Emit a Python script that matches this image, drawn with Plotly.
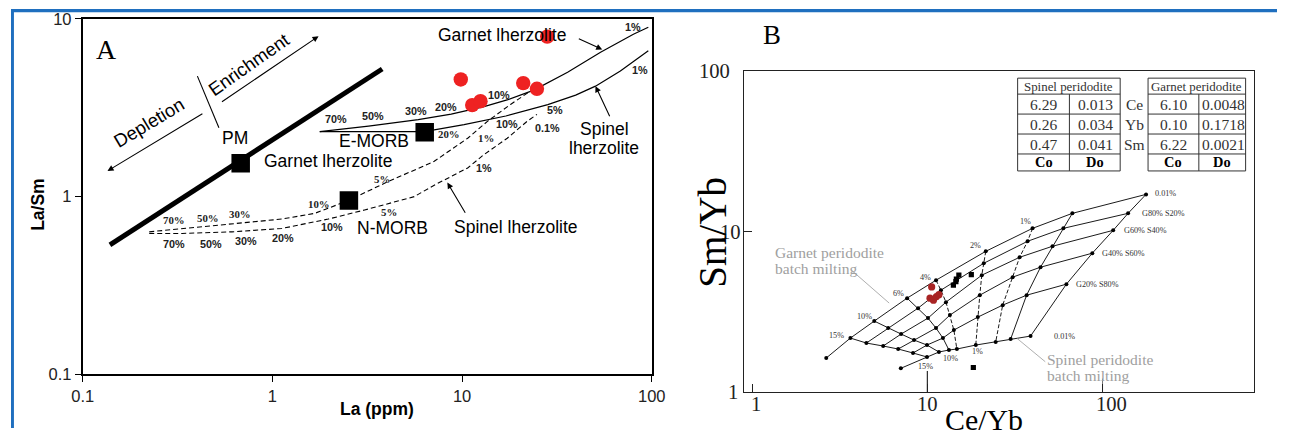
import math
import plotly.graph_objects as go

# figure size; the page keeps the browser's default 8px body margin and the captured
# page is scaled slightly on output, so layout positions are given in output pixels
W, H = 1291, 437
OFF = 8
SX, SY = 0.985, 0.961
FS = 1.03  # font/marker compensation for the output scaling
SANS = "Liberation Sans, Arial, sans-serif"
SERIF = "Liberation Serif, Times New Roman, serif"

# ---------------- Panel A: La/Sm vs La (ppm) ----------------
sample_la = [28.1, 9.84, 21.0, 24.8, 11.3, 12.5]
sample_lasm = [7.94, 4.56, 4.35, 4.04, 3.27, 3.44]

ref_names = ["PM", "E-MORB", "N-MORB"]
ref_la = [0.68, 6.35, 2.53]
ref_lasm = [1.54, 2.30, 0.95]

mantle_array_la = [0.139, 3.79]
mantle_array_lasm = [0.535, 5.22]

# melting curves (solid: enriched source, dashed: depleted source)
grt_em_la = [1.776, 3.21, 5.87, 8.76, 13.05, 17.44, 23.9, 36.0, 53.7, 80.0, 95.9]
grt_em_lasm = [2.32, 2.49, 2.71, 2.91, 3.21, 3.51, 3.97, 5.01, 6.49, 8.18, 8.96]
spl_em_la = [1.776, 3.33, 6.32, 10.24, 17.0, 28.3, 39.7, 50.5, 68.3, 95.9]
spl_em_lasm = [2.32, 2.32, 2.32, 2.54, 2.84, 3.29, 3.72, 4.18, 5.08, 6.61]
grt_dm_la = [0.224, 0.334, 0.612, 1.12, 1.67, 2.13, 2.55, 3.90, 7.13, 10.7, 13.6, 18.0, 22.9]
grt_dm_lasm = [0.634, 0.662, 0.706, 0.748, 0.805, 0.889, 0.957, 1.19, 1.58, 2.13, 2.65, 3.30, 3.92]
spl_dm_la = [0.224, 0.334, 0.612, 1.12, 1.97, 3.06, 5.59, 7.13, 10.7, 13.0, 17.3, 22.0, 24.8]
spl_dm_lasm = [0.621, 0.621, 0.634, 0.662, 0.748, 0.841, 1.0, 1.16, 1.45, 1.72, 2.13, 2.65, 2.90]

# melt-fraction labels: text, La, La/Sm, serif?
pct_text = ["70%", "50%", "30%", "20%", "10%", "1%",
            "20%", "10%", "5%", "1%",
            "1%", "5%", "10%", "30%", "50%", "70%",
            "0.1%", "1%", "5%", "10%", "20%", "30%", "50%", "70%"]
pct_la = [2.17, 3.38, 5.71, 8.27, 15.6, 79.6,
          8.48, 17.3, 30.7, 86.7,
          13.3, 3.80, 1.77, 0.677, 0.455, 0.303,
          28.3, 13.0, 4.14, 2.06, 1.14, 0.727, 0.472, 0.303]
pct_lasm = [2.72, 2.84, 3.03, 3.19, 3.72, 8.96,
            2.24, 2.57, 3.05, 5.12,
            2.14, 1.25, 0.907, 0.797, 0.757, 0.743,
            2.44, 1.455, 0.824, 0.679, 0.582, 0.565, 0.545, 0.541]
pct_serif = [0, 0, 0, 0, 0, 0,
             1, 0, 0, 0,
             1, 1, 1, 1, 1, 1,
             0, 0, 1, 0, 0, 0, 0, 0]

# ---------------- Panel B: Sm/Yb vs Ce/Yb ----------------
# melting grid: columns = melt fraction, rows = G100, G80S20, G60S40, G40S60, G20S80, S100
melt_f = ["15%", "10%", "6%", "4%", "2%", "1%", "0.1%", "0.01%"]
grid_ce = [
    [3.64, 4.49, 5.60, 6.82, 8.29, 9.96],
    [4.98, 5.98, 7.09, 8.40, 9.96, 11.65],
    [7.67, 8.86, 10.09, 11.21, 12.28, 13.29],
    [11.21, 11.96, 12.78, 13.46, 14.18, 14.75],
    [21.56, 21.00, 20.46, 19.93, 19.42, 18.91],
    [39.86, 37.35, 33.63, 30.69, 26.92, 24.56],
    [67.26, 59.78, 51.80, 44.26, 36.87, 29.90],
    [177.1, 139.9, 115.0, 87.4, 62.2, 38.83],
]
grid_sm = [
    [2.180, 2.030, 1.945, 1.863, 1.760, 1.662],
    [2.781, 2.516, 2.309, 2.119, 1.972, 1.785],
    [3.864, 3.348, 2.902, 2.516, 2.180, 1.837],
    [4.998, 4.331, 3.648, 3.030, 2.445, 1.863],
    [7.56, 6.37, 5.37, 4.03, 2.944, 1.972],
    [10.51, 8.73, 6.94, 5.22, 3.495, 2.059],
    [13.03, 10.51, 8.13, 6.02, 4.03, 2.149],
    [17.10, 13.03, 10.21, 7.36, 4.72, 2.243],
]
col_dash = ["solid", "solid", "solid", "dash", "dash", "dash", "solid", "solid"]
# high-degree end points of the pure garnet and pure spinel curves
grt_end = (2.65, 1.638)
spl_end = (7.06, 1.413)

b_red_ce = [10.59, 10.36, 10.84, 11.28, 11.65]
b_red_sm = [4.54, 3.86, 3.75, 3.95, 4.06]
b_blk_ce = [14.09, 14.65, 15.14, 14.56, 17.83, 18.31]
b_blk_sm = [4.65, 5.07, 5.37, 4.89, 5.41, 1.43]

grid_lbl_text = ["15%", "10%", "6%", "4%", "2%", "1%", "0.01%",
                 "G80% S20%", "G60% S40%", "G40% S60%", "G20% S80%",
                 "0.01%", "1%", "10%", "15%"]
grid_lbl_ce = [3.02, 4.37, 6.84, 9.79, 18.84, 36.24, 194,
               163.2, 129.9, 96.7, 68.8, 51.3, 19.24, 13.58, 9.79]
grid_lbl_sm = [2.276, 2.957, 4.13, 5.19, 8.24, 11.67, 17.27,
               13.09, 10.2, 7.32, 4.70, 2.24, 1.79, 1.631, 1.446]
grid_lbl_left = [0, 0, 0, 0, 0, 0, 1, 1, 1, 1, 1, 1, 0, 0, 0]

b_ticks = [1, 10, 100]
b_tick_text = ["1", "10", "100"]

# partition data table
tbl_elements = ["Ce", "Yb", "Sm"]
spl_co = ["6.29", "0.26", "0.47"]
spl_do = ["0.013", "0.034", "0.041"]
grt_co = ["6.10", "0.10", "6.22"]
grt_do = ["0.0048", "0.1718", "0.0021"]


def lg(v):
    return math.log10(v)


def px(x):
    """output pixel column -> paper fraction"""
    return (x / SX - OFF) / W


def py(y):
    """output pixel row -> paper fraction"""
    return 1 - (y / SY - OFF) / H


def fs(size):
    return round(size * FS, 1)


fig = go.Figure()
ann = []
shapes = []


def line(xs, ys, xa, ya, width=1.0, dash="solid", color="black"):
    fig.add_trace(go.Scatter(x=xs, y=ys, xaxis=xa, yaxis=ya, mode="lines",
                             line=dict(color=color, width=width, dash=dash),
                             hoverinfo="skip", showlegend=False))


def label(t, x, y, ref, size, family=SANS, color="black", angle=0, xanchor="center"):
    xr, yr = ref
    ann.append(dict(text=t, x=lg(x), y=lg(y), xref=xr, yref=yr, showarrow=False,
                    font=dict(family=family, size=fs(size), color=color), align="left",
                    textangle=angle, xanchor=xanchor, yanchor="middle"))


def arrow(x0, y0, x1, y1, ref, head=2, size=1.1, width=1.1):
    xr, yr = ref
    ann.append(dict(text="", x=lg(x1), y=lg(y1), ax=lg(x0), ay=lg(y0),
                    xref=xr, yref=yr, axref=xr, ayref=yr, showarrow=True,
                    arrowhead=head, arrowsize=size, arrowwidth=width,
                    arrowcolor="black"))


def ptext(t, x, y, size, family=SERIF, bold=False, color="black", angle=0, xanchor="center"):
    ann.append(dict(text=(f"<b>{t}</b>" if bold else t), x=px(x), y=py(y),
                    xref="paper", yref="paper", showarrow=False, textangle=angle,
                    font=dict(family=family, size=fs(size), color=color),
                    xanchor=xanchor, yanchor="middle"))


A = ("x", "y")
B = ("x2", "y2")

# ---- Panel A marks ----
line(mantle_array_la, mantle_array_lasm, "x", "y", width=5)
line(grt_em_la, grt_em_lasm, "x", "y", width=1.2)
line(spl_em_la, spl_em_lasm, "x", "y", width=1.2)
line(grt_dm_la, grt_dm_lasm, "x", "y", width=1.1, dash="5px,3px")
line(spl_dm_la, spl_dm_lasm, "x", "y", width=1.1, dash="5px,3px")
line([0.402, 0.522], [4.76, 2.44], "x", "y", width=1.1)

fig.add_trace(go.Scatter(x=ref_la, y=ref_lasm, mode="markers", xaxis="x", yaxis="y",
                         marker=dict(symbol="square", size=fs(18), color="black"),
                         hoverinfo="skip", showlegend=False))
fig.add_trace(go.Scatter(x=sample_la, y=sample_lasm, mode="markers", xaxis="x", yaxis="y",
                         marker=dict(symbol="circle", size=fs(14), color="#ee2222"),
                         hoverinfo="skip", showlegend=False))

arrow(0.435, 2.96, 0.135, 1.395, A)
arrow(0.532, 3.37, 1.75, 7.98, A)
arrow(40.5, 7.80, 54.8, 6.72, A)
arrow(60.5, 2.78, 50.5, 4.18, A)
arrow(10.5, 0.797, 8.36, 1.199, A)

label("Depletion", 0.224, 2.60, A, 18, angle=-31)
label("Enrichment", 0.750, 5.53, A, 18, angle=-35)
label("PM", 0.638, 2.14, A, 17)
label("Garnet lherzolite", 1.96, 1.59, A, 17)
label("E-MORB", 3.43, 2.06, A, 17)
label("N-MORB", 4.31, 0.670, A, 17)
label("Spinel lherzolite", 19.3, 0.677, A, 17)
label("Garnet lherzolite", 16.2, 8.15, A, 17)
label("Spinel", 56.3, 2.40, A, 17)
label("lherzolite", 56.3, 1.87, A, 17)
for t, x, y, s in zip(pct_text, pct_la, pct_lasm, pct_serif):
    label(f"<b>{t}</b>", x, y, A, 10.5, family=(SERIF if s else SANS), color="#222")

# ---- Panel B marks ----
n_rows = len(grid_ce[0])
for r in range(n_rows):
    xs = [col[r] for col in grid_ce]
    ys = [col[r] for col in grid_sm]
    if r == 0:
        xs, ys = [grt_end[0]] + xs, [grt_end[1]] + ys
    if r == n_rows - 1:
        xs, ys = [spl_end[0]] + xs, [spl_end[1]] + ys
    line(xs, ys, "x2", "y2", width=0.9)
for c in range(len(grid_ce)):
    line(grid_ce[c], grid_sm[c], "x2", "y2", width=0.9,
         dash=("4px,2px" if col_dash[c] == "dash" else "solid"))
all_ce = [v for col in grid_ce for v in col] + [grt_end[0], spl_end[0]]
all_sm = [v for col in grid_sm for v in col] + [grt_end[1], spl_end[1]]
fig.add_trace(go.Scatter(x=all_ce, y=all_sm, mode="markers", xaxis="x2", yaxis="y2",
                         marker=dict(symbol="circle", size=4, color="black"),
                         hoverinfo="skip", showlegend=False))

# leader lines and axis markers
line([3.69, 6.06], [5.77, 3.60], "x2", "y2", width=0.8, color="#999")
line([32.5, 47.1], [2.17, 1.553], "x2", "y2", width=0.8, color="#999")
line([10, 10], [1, 1.36], "x2", "y2", width=1)
line([100, 100], [1, 1.22], "x2", "y2", width=1, color="#777")

fig.add_trace(go.Scatter(x=b_red_ce, y=b_red_sm, mode="markers", xaxis="x2", yaxis="y2",
                         marker=dict(symbol="circle", size=fs(7), color="#a82424"),
                         hoverinfo="skip", showlegend=False))
fig.add_trace(go.Scatter(x=b_blk_ce, y=b_blk_sm, mode="markers", xaxis="x2", yaxis="y2",
                         marker=dict(symbol="square", size=fs(5), color="black"),
                         hoverinfo="skip", showlegend=False))

for t, x, y, left in zip(grid_lbl_text, grid_lbl_ce, grid_lbl_sm, grid_lbl_left):
    label(t, x, y, B, 8, family=SERIF, color="#333", xanchor=("left" if left else "center"))

gray = "#a0a0a0"
label("Garnet peridodite", 1.315, 7.46, B, 15, family=SERIF, color=gray, xanchor="left")
label("batch milting", 1.315, 5.93, B, 15, family=SERIF, color=gray, xanchor="left")
label("Spinel peridodite", 47.1, 1.603, B, 15, family=SERIF, color=gray, xanchor="left")
label("batch milting", 47.1, 1.275, B, 15, family=SERIF, color=gray, xanchor="left")

# tick labels of panel B, set just under / beside the frame
for v, t, dx in zip(b_ticks, b_tick_text, [4, 0, 9]):
    ann.append(dict(text=t, x=lg(v), y=py(404), xref="x2", yref="paper", xshift=dx,
                    showarrow=False, font=dict(family=SERIF, size=fs(20), color="#222"),
                    xanchor="center", yanchor="middle"))
for v, t, xc in zip(b_ticks, b_tick_text, [733, 731, 715]):
    ann.append(dict(text=t, x=px(xc), y=lg(v), xref="paper", yref="y2",
                    showarrow=False, font=dict(family=SERIF, size=fs(20), color="#222"),
                    xanchor="center", yanchor="middle"))

# ---- partition-coefficient tables ----
row_y = [77, 93, 113, 133, 153, 170]
for x0, xm, x1, title, co, do in [(1019, 1071, 1122, "Spinel peridodite", spl_co, spl_do),
                                  (1150, 1201, 1248, "Garnet peridodite", grt_co, grt_do)]:
    shapes.append(dict(type="rect", xref="paper", yref="paper", x0=px(x0), x1=px(x1),
                       y0=py(row_y[-1]), y1=py(row_y[0]), line=dict(color="#333", width=1)))
    for yy in row_y[1:-1]:
        shapes.append(dict(type="line", xref="paper", yref="paper", x0=px(x0), x1=px(x1),
                           y0=py(yy), y1=py(yy), line=dict(color="#333", width=1)))
    shapes.append(dict(type="line", xref="paper", yref="paper", x0=px(xm), x1=px(xm),
                       y0=py(row_y[1]), y1=py(row_y[-1]), line=dict(color="#333", width=1)))
    ptext(title, (x0 + x1) / 2, 85.5, 12.5, color="#333")
    for i in range(3):
        yc = (row_y[i + 1] + row_y[i + 2]) / 2
        ptext(co[i], (x0 + xm) / 2, yc, 15, color="#333")
        ptext(do[i], (xm + x1) / 2 + 1, yc, 15, color="#333")
    ptext("Co", (x0 + xm) / 2, 161.5, 14, bold=True)
    ptext("Do", (xm + x1) / 2, 161.5, 14, bold=True)
for i, el in enumerate(tbl_elements):
    ptext(el, 1136, (row_y[i + 1] + row_y[i + 2]) / 2, 15, color="#333")

# ---- panel letters and axis titles ----
ptext("A", 103, 48, 27)
ptext("B", 772, 34, 26)
ptext("<b>La/Sm</b>", 35, 203, 17, family=SANS, angle=-90)
ptext("<b>La (ppm)</b>", 376, 409, 17, family=SANS)
ptext("Sm/Yb", 713, 231, 38, angle=-90)
ptext("Ce/Yb", 985, 419, 29)

# ---- page border ----
blue = "#1f6fbf"
shapes.append(dict(type="rect", xref="paper", yref="paper", x0=0, x1=3 / W,
                   y0=0, y1=1, fillcolor=blue, line=dict(width=0)))
shapes.append(dict(type="rect", xref="paper", yref="paper", x0=0, x1=1,
                   y0=1 - 3.5 / H, y1=1, fillcolor=blue, line=dict(width=0)))

axis_a = dict(type="log", showgrid=False, zeroline=False, showline=True, mirror=True,
              linecolor="black", linewidth=2, ticks="outside", ticklen=6, tickwidth=1.2,
              tickcolor="black", tickfont=dict(family=SANS, size=fs(16), color="#222"))
axis_b = dict(type="log", showgrid=False, zeroline=False, showline=True, mirror=True,
              linecolor="#222", linewidth=1, ticks="inside", ticklen=8, tickwidth=1,
              tickcolor="#222", showticklabels=False)

fig.update_layout(
    width=W, height=H, autosize=False,
    margin=dict(l=0, r=0, t=0, b=0),
    paper_bgcolor="white", plot_bgcolor="white",
    showlegend=False,
    xaxis=dict(axis_a, domain=[px(80), px(651.5)], range=[-1, 2], anchor="y",
               tickvals=[0.1, 1, 10, 100], ticktext=["0.1", "1", "10", "100"]),
    yaxis=dict(axis_a, domain=[py(374), py(17.5)], range=[-1, 1], anchor="x",
               tickvals=[0.1, 1, 10], ticktext=["0.1", "1", "10"]),
    xaxis2=dict(axis_b, domain=[px(744.5), px(1256)], range=[-0.044, 2.862], anchor="y2",
                tickvals=b_ticks),
    yaxis2=dict(axis_b, domain=[py(392), py(70)], range=[0, 2], anchor="x2",
                tickvals=b_ticks),
    annotations=ann,
    shapes=shapes,
)

fig.write_html("out.html", config={"responsive": False, "displayModeBar": False})
